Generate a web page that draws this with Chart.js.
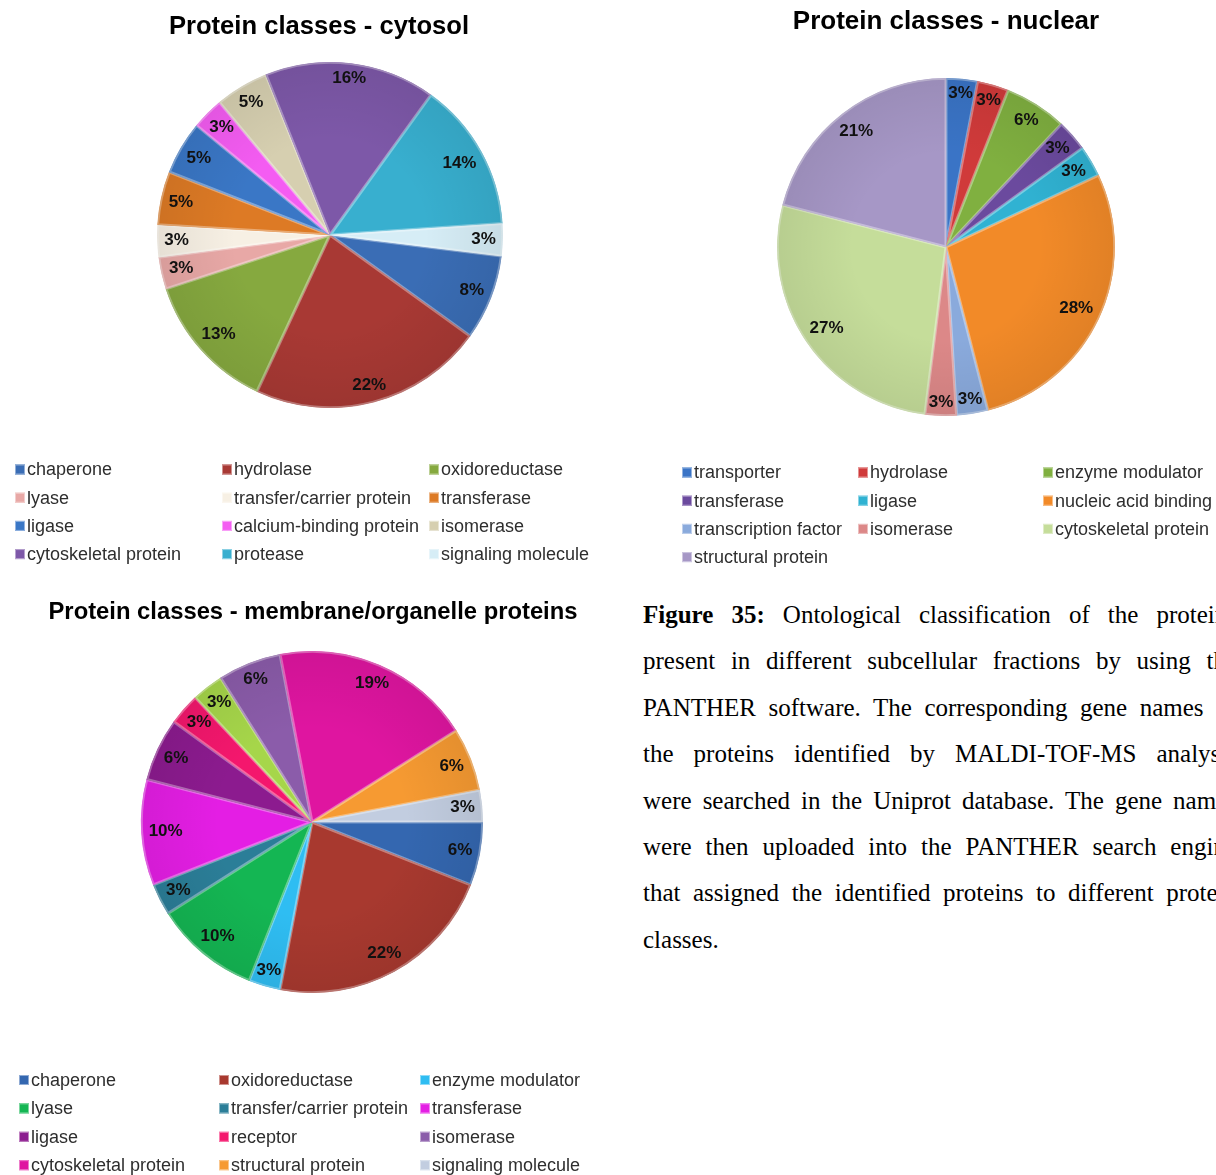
<!DOCTYPE html>
<html>
<head>
<meta charset="utf-8">
<script src="https://cdn.jsdelivr.net/npm/chart.js@4.4.1/dist/chart.umd.min.js"></script>
<style>
  html, body { margin: 0; padding: 0; background: #fff; width: 1216px; height: 1175px; overflow: hidden; }
  body { position: relative; }
  canvas { position: absolute; }
  #caption {
    position: absolute; left: 643px; top: 592px; width: 594px;
    font-family: "Liberation Serif", "Times New Roman", serif;
    font-size: 25px; line-height: 46.4px; color: #000;
  }
  #caption .j { text-align: justify; text-align-last: justify; }
</style>
</head>
<body>
<canvas id="cytosol"></canvas>
<canvas id="nuclear"></canvas>
<canvas id="membrane"></canvas>
<div id="caption">
  <div class="j"><b>Figure 35:</b> Ontological classification of the proteins</div>
  <div class="j">present in different subcellular fractions by using the</div>
  <div class="j">PANTHER software. The corresponding gene names of</div>
  <div class="j">the proteins identified by MALDI-TOF-MS analysis</div>
  <div class="j">were searched in the Uniprot database. The gene names</div>
  <div class="j">were then uploaded into the PANTHER search engine</div>
  <div class="j">that assigned the identified proteins to different protein</div>
  <div>classes.</div>
</div>
<script>
// ---- Cytosol fraction ----
const cytosolClasses = ['chaperone', 'hydrolase', 'oxidoreductase', 'lyase', 'transfer/carrier protein',
  'transferase', 'ligase', 'calcium-binding protein', 'isomerase', 'cytoskeletal protein', 'protease',
  'signaling molecule'];
const cytosolPercent = [8, 22, 13, 3, 3, 5, 5, 3, 5, 16, 14, 3];
const cytosolColors = ['#3a6db5', '#a83934', '#86a93f', '#e8a8a6', '#f7f0e4', '#dd7a25', '#3a77c6',
  '#f45cf2', '#d6cfb0', '#7d58a8', '#38afcf', '#d6edf6'];

// ---- Nuclear fraction ----
const nuclearClasses = ['transporter', 'hydrolase', 'enzyme modulator', 'transferase', 'ligase',
  'nucleic acid binding', 'transcription factor', 'isomerase', 'cytoskeletal protein', 'structural protein'];
const nuclearPercent = [3, 3, 6, 3, 3, 28, 3, 3, 27, 21];
const nuclearColors = ['#3a74c6', '#d03a3a', '#80b040', '#6b4a9e', '#30b2d2', '#f28a28', '#8aaadc',
  '#dc8888', '#c5dd9a', '#a697c6'];

// ---- Membrane / organelle fraction ----
// the yellow-green class has no name in the key, so it is left out of the legend
const membraneClasses = ['chaperone', 'oxidoreductase', 'enzyme modulator', 'lyase', 'transfer/carrier protein',
  'transferase', 'ligase', 'receptor', '', 'isomerase', 'cytoskeletal protein', 'structural protein',
  'signaling molecule'];
const membranePercent = [6, 22, 3, 10, 3, 10, 6, 3, 3, 6, 19, 6, 3];
const membraneColors = ['#3467b0', '#a8392f', '#2fbdf2', '#14b653', '#2b7e98', '#e41ee4', '#8c1b8f',
  '#f4176d', '#a6d64a', '#8b5caa', '#df15a0', '#f69a32', '#c2cde0'];

const SANS = '"Liberation Sans", Arial, Helvetica, sans-serif';

function lighten(hex, amt) {
  const n = parseInt(hex.slice(1), 16);
  const r = (n >> 16) & 255, g = (n >> 8) & 255, b = n & 255;
  const m = v => Math.round(v + (255 - v) * amt);
  return `rgb(${m(r)},${m(g)},${m(b)})`;
}

// Title, percentage labels and a column-aligned key
const panelPlugin = {
  id: 'panel',
  afterDatasetsDraw(chart, args, opts) {
    const ctx = chart.ctx;
    const meta = chart.getDatasetMeta(0);
    const values = chart.data.datasets[0].data;
    ctx.save();
    // soft shading towards the rim
    const a0 = meta.data[0].getProps(['x', 'y', 'outerRadius'], true);
    const g = ctx.createRadialGradient(a0.x, a0.y, a0.outerRadius * 0.55, a0.x, a0.y, a0.outerRadius);
    g.addColorStop(0, 'rgba(0,0,0,0)');
    g.addColorStop(1, 'rgba(0,0,0,0.07)');
    ctx.fillStyle = g;
    ctx.beginPath();
    ctx.arc(a0.x, a0.y, a0.outerRadius, 0, Math.PI * 2);
    ctx.fill();

    ctx.font = `bold ${opts.labelSize}px ${SANS}`;
    ctx.fillStyle = '#111';
    ctx.textAlign = 'center';
    ctx.textBaseline = 'middle';
    meta.data.forEach((arc, i) => {
      const p = arc.getProps(['x', 'y', 'startAngle', 'endAngle', 'outerRadius'], true);
      const mid = (p.startAngle + p.endAngle) / 2;
      const text = values[i] + '%';
      const w = ctx.measureText(text).width;
      const h = opts.labelSize * 0.75;
      const c = Math.cos(mid), s = Math.sin(mid);
      const d = (w / 2) * Math.abs(c) + (h / 2) * Math.abs(s) + opts.labelInset;
      ctx.fillText(text, p.x + (p.outerRadius - d) * c, p.y + (p.outerRadius - d) * s);
    });
    ctx.restore();
  },
  afterDraw(chart, args, opts) {
    const ctx = chart.ctx;
    ctx.save();
    // title
    ctx.font = `bold ${opts.titleSize}px ${SANS}`;
    ctx.fillStyle = '#000';
    ctx.textAlign = 'center';
    ctx.textBaseline = 'middle';
    ctx.fillText(opts.title, opts.titleX, opts.titleY);
    // key
    const labels = chart.data.labels;
    const colors = chart.data.datasets[0].backgroundColor;
    const cols = opts.keyX.length;
    ctx.font = `${opts.keySize}px ${SANS}`;
    ctx.textAlign = 'left';
    let k = 0;
    labels.forEach((lab, i) => {
      if (!lab) return;
      const x = opts.keyX[k % cols];
      const y = opts.keyY + Math.floor(k / cols) * opts.keyStep;
      const b = opts.box;
      ctx.fillStyle = colors[i];
      ctx.fillRect(x, y - b / 2, b, b);
      ctx.strokeStyle = lighten(colors[i], 0.45);
      ctx.lineWidth = 1;
      ctx.strokeRect(x + 0.5, y - b / 2 + 0.5, b - 1, b - 1);
      ctx.fillStyle = '#2e2e2e';
      ctx.fillText(lab, x + b + 2, y + 1);
      k++;
    });
    ctx.restore();
  }
};

function makePie(id, pos, labels, values, colors, rotation, panel) {
  const cv = document.getElementById(id);
  cv.style.left = pos.left + 'px';
  cv.style.top = pos.top + 'px';
  cv.width = pos.w; cv.height = pos.h;
  cv.style.width = pos.w + 'px'; cv.style.height = pos.h + 'px';
  const R = pos.r;
  return new Chart(cv, {
    type: 'pie',
    data: {
      labels: labels,
      datasets: [{
        data: values,
        backgroundColor: colors,
        borderColor: colors.map(c => lighten(c, 0.35)),
        borderWidth: 1.5,
        borderAlign: 'inner',
        radius: R,
        hoverOffset: 0
      }]
    },
    options: {
      responsive: false,
      animation: false,
      devicePixelRatio: 1,
      rotation: rotation,
      layout: { padding: { left: pos.cx - R, right: pos.w - pos.cx - R, top: pos.cy - R, bottom: pos.h - pos.cy - R } },
      plugins: { legend: { display: false }, tooltip: { enabled: false }, title: { display: false }, panel: panel }
    },
    plugins: [panelPlugin]
  });
}

makePie('cytosol', { left: 0, top: 0, w: 640, h: 580, cx: 330, cy: 235, r: 173 },
  cytosolClasses, cytosolPercent, cytosolColors, 97, {
    title: 'Protein classes - cytosol', titleX: 319, titleY: 27, titleSize: 25.6,
    labelSize: 17, labelInset: 7,
    keyX: [15, 222, 429], keyY: 469.5, keyStep: 28.2, keySize: 18, box: 10
  });

makePie('nuclear', { left: 620, top: 0, w: 596, h: 580, cx: 326, cy: 247, r: 169 },
  nuclearClasses, nuclearPercent, nuclearColors, 0, {
    title: 'Protein classes - nuclear', titleX: 326, titleY: 22, titleSize: 26,
    labelSize: 17, labelInset: 7,
    keyX: [62, 238, 423], keyY: 472.5, keyStep: 28.2, keySize: 18, box: 10
  });

makePie('membrane', { left: 0, top: 580, w: 640, h: 595, cx: 312, cy: 242, r: 171 },
  membraneClasses, membranePercent, membraneColors, 90, {
    title: 'Protein classes - membrane/organelle proteins', titleX: 313, titleY: 32, titleSize: 23.8,
    labelSize: 17, labelInset: 7,
    keyX: [19, 219, 420], keyY: 500, keyStep: 28.4, keySize: 18, box: 10
  });
</script>
</body>
</html>
